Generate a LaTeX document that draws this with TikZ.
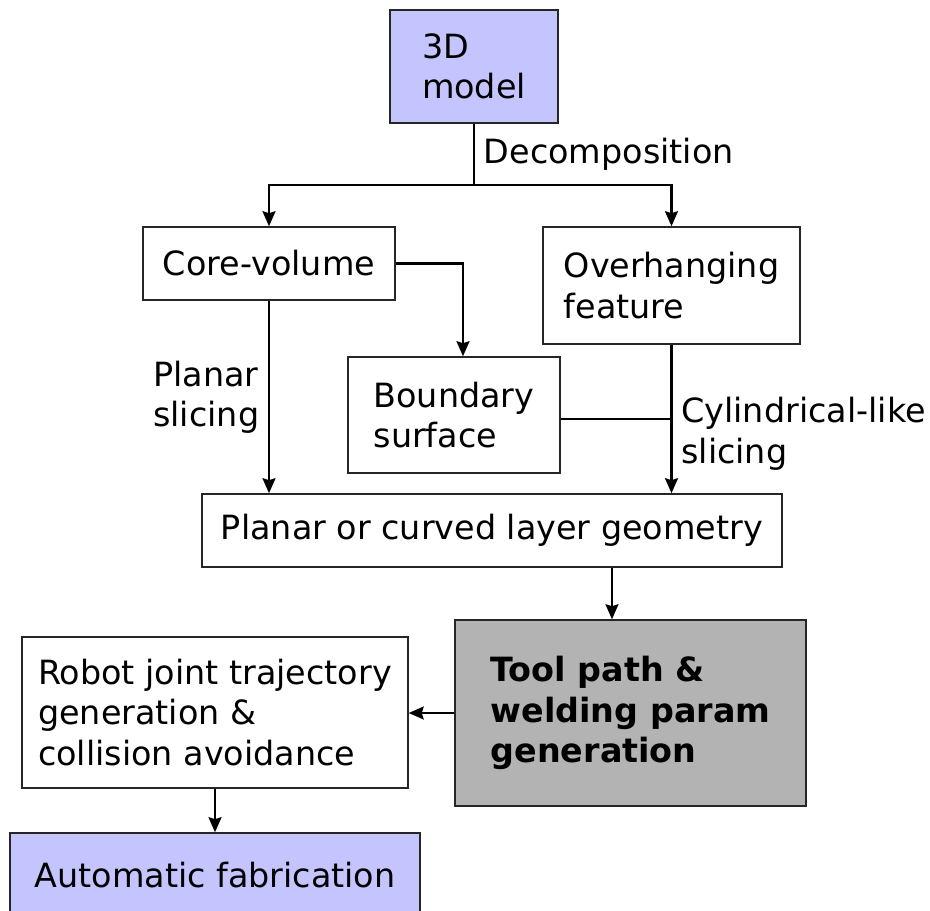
\documentclass[tikz,border=0pt]{standalone}
\usepackage{fontspec}
\setmainfont{DejaVu Sans}
\usepackage{tikz}
\usetikzlibrary{arrows.meta,positioning,calc}
\usepackage{xcolor}
\definecolor{inputblue}{RGB}{196,196,255}
\definecolor{toolgray}{RGB}{179,179,179}

\begin{document}
\begin{tikzpicture}[%
    x=0.02cm, y=-0.02cm,
    >={Stealth[length=0.3cm, width=0.26cm, inset=0.04cm]},
    box/.style={rectangle, draw=black!85, line width=0.9pt, align=left, inner sep=0pt,
      font=\fontsize{19}{23}\selectfont},
    flow/.style={line width=1.2pt},
    lbl/.style={font=\fontsize{19}{23}\selectfont, align=left, inner sep=5pt},
  ]
  \useasboundingbox (0,0) rectangle (930,911);

  % --- boxes ---
  \node[box, fill=inputblue, minimum width=3.36cm, minimum height=2.26cm] (model) at (474,66.5) {3D\\model};
  \node[box, minimum width=5.04cm, minimum height=1.46cm] (core) at (269,263.5) {Core-volume};
  \node[box, minimum width=5.14cm, minimum height=2.34cm] (over) at (671.5,285.5) {Overhanging\\feature};
  \node[box, minimum width=4.24cm, minimum height=2.32cm] (bound) at (454,415) {Boundary\\surface};
  \node[box, minimum width=11.6cm, minimum height=1.46cm] (layer) at (492,530.5) {Planar or curved layer geometry};
  \node[box, fill=toolgray, minimum width=7.02cm, minimum height=3.72cm, font=\fontsize{19}{23}\selectfont\bfseries] (tool) at (630.5,713) {Tool path \&\\welding param\\generation};
  \node[box, minimum width=7.72cm, minimum height=3.02cm] (robot) at (215,712.5) {Robot joint trajectory\\generation \&\\collision avoidance};
  \node[box, fill=inputblue, minimum width=8.2cm, minimum height=1.68cm] (fab) at (215,875) {Automatic fabrication};

  % --- decomposition ---
  \coordinate (split) at (474,185);
  \draw[flow] (model.south) -- node[lbl, right] {Decomposition} (split);
  \draw[flow, ->] (split) -| (core.north);
  \draw[flow, ->] (split) -| (over.north);
  \draw[flow, ->] (core.east) -| ([xshift=0.18cm]bound.north);

  % --- slicing ---
  \draw[flow, ->] (core.south) -- (core.south |- layer.north)
    node[lbl, midway, left] {Planar\\slicing};
  \draw[flow, ->] (over.south) -- (over.south |- layer.north)
    node[lbl, pos=0.6, right] {Cylindrical-like\\slicing};
  \draw[flow] ([yshift=-0.08cm]bound.east) -- ([yshift=-0.08cm]bound.east -| over.south);

  % --- path planning ---
  \draw[flow, ->] ([xshift=2.4cm]layer.south) -- ([xshift=2.4cm]layer.south |- tool.north);
  \draw[flow, ->] (tool.west) -- (tool.west -| robot.east);
  \draw[flow, ->] (robot.south) -- (fab.north);
\end{tikzpicture}
\end{document}
